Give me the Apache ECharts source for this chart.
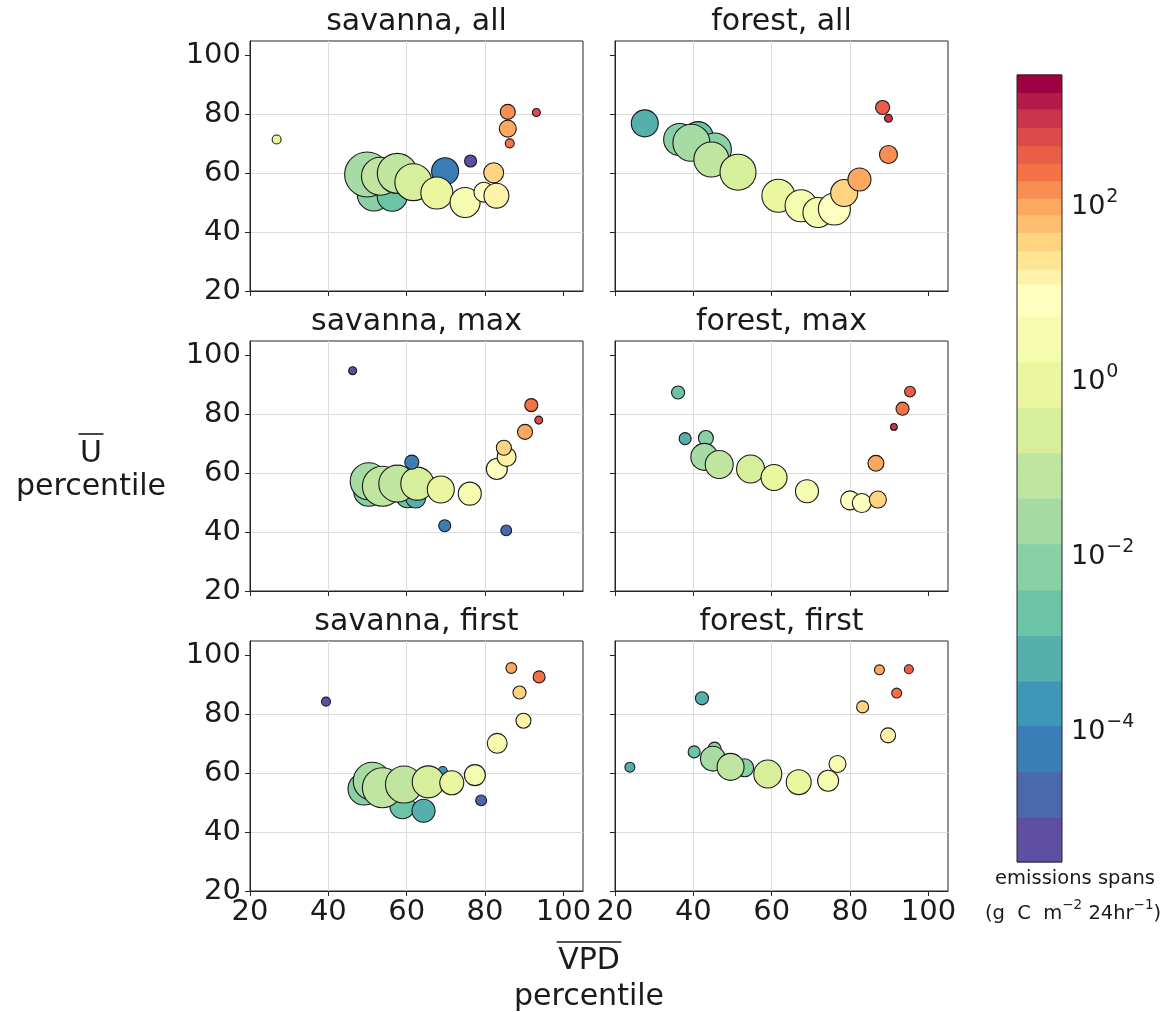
<!DOCTYPE html>
<html><head><meta charset="utf-8">
<script src="https://cdn.jsdelivr.net/npm/echarts@6/dist/echarts.min.js"></script>
<style>html,body{margin:0;padding:0;background:#fff}#c{width:1168px;height:1012px}</style>
</head><body><div id="c"></div>
<script>
// ---------- DATA ----------
const panelTitles = ['savanna, all','forest, all','savanna, max','forest, max','savanna, first','forest, first'];
const xTicks = [20,40,60,80,100];
const yTicks = [20,40,60,80,100];

// savanna, all
const savAllVPD  = [51.6,56.3,49.9,53.3,57.6,69.8,61.7,67.7,74.9,76.3,79.7,82.2,82.9,85.8,85.8,86.3,93.1,26.8];
const savAllU    = [52.8,52.2,59.6,59.0,60.0,60.7,57.0,53.3,50.1,64.2,53.6,60.2,52.4,80.9,75.2,70.2,80.7,71.5];
const savAllLogE = [-2.1,-2.65,-1.6,-1.1,-0.9,-4.0,-0.6,-0.05,0.45,-5.2,0.9,1.57,1.17,2.17,1.97,2.37,2.78,-0.05];
const savAllN    = [121,100,225,160,178,81,152,114,100,16,44,44,69,25,32,9,7,9];
// forest, all
const forAllVPD  = [27.6,41.2,36.5,45.5,39.5,44.6,51.4,61.7,67.5,71.8,76.0,78.5,82.4,89.8,88.3,89.8];
const forAllU    = [77.0,72.5,71.5,68.1,70.4,64.7,60.4,52.4,49.0,46.7,47.9,53.3,57.9,66.4,82.4,78.7];
const forAllLogE = [-3.2,-2.65,-2.1,-2.1,-1.6,-1.1,-0.6,-0.05,0.3,0.45,0.9,1.5,1.9,2.17,2.5,2.98];
const forAllN    = [81,100,114,121,152,136,144,121,114,100,114,81,59,36,22,7];
// savanna, max
const savMaxVPD  = [50.3,60.2,62.3,50.3,53.8,57.6,62.7,61.3,68.7,76.1,69.7,85.4,83.0,85.5,84.8,90.2,91.8,93.7,46.2];
const savMaxU    = [53.9,52.2,51.6,57.3,55.6,56.5,56.5,63.8,54.5,53.1,42.2,40.6,61.5,65.6,68.7,74.1,83.2,78.1,94.9];
const savMaxLogE = [-2.1,-2.65,-3.2,-1.6,-1.1,-1.0,-0.6,-4.0,0.0,0.5,-4.2,-4.5,0.9,1.15,1.55,1.9,2.27,2.8,-5.2];
const savMaxN    = [100,59,44,152,178,152,121,22,81,59,16,13,49,40,25,25,19,7,7];
// forest, max
const forMaxVPD  = [36.1,37.9,43.2,41.6,42.8,46.6,54.6,60.6,69.0,80.0,83.0,87.1,86.6,91.2,93.4,95.3];
const forMaxU    = [87.5,71.8,72.0,65.0,65.6,63.0,61.5,58.6,53.9,50.8,49.9,51.1,63.4,75.8,82.0,87.8];
const forMaxLogE = [-2.65,-3.2,-2.1,-2.65,-1.6,-1.1,-0.6,-0.1,0.45,0.9,1.0,1.5,1.9,2.95,2.27,2.55];
const forMaxN    = [19,16,25,25,81,87,87,75,59,40,40,32,28,5,19,13];
// savanna, first
const savFirstVPD  = [69.2,58.9,64.3,49.1,51.2,53.8,59.3,65.5,71.5,77.4,79.0,83.1,89.8,88.8,86.7,93.8,39.4];
const savFirstU    = [60.8,48.8,47.3,54.7,57.3,55.1,56.2,57.1,56.8,59.4,50.8,70.2,77.9,87.5,95.8,92.8,84.4];
const savFirstLogE = [-3.7,-2.65,-3.2,-2.1,-1.6,-1.1,-0.9,-0.5,0.1,0.5,-4.5,0.6,1.17,1.55,1.9,2.3,-5.2];
const savFirstN    = [9,69,59,114,160,178,152,114,64,49,13,44,25,19,13,16,9];
// forest, first
const forFirstVPD  = [23.8,42.2,40.2,45.4,53.1,45.0,49.5,59.0,66.9,74.4,76.8,89.7,83.2,87.5,91.9,95.0];
const forFirstU    = [62.1,85.5,67.3,68.4,61.9,65.0,62.2,59.8,57.0,57.5,63.2,72.9,82.6,95.2,87.3,95.4];
const forFirstLogE = [-3.2,-3.2,-2.65,-2.1,-2.3,-1.6,-1.1,-0.6,-0.1,0.3,0.7,1.15,1.55,1.9,2.35,2.55];
const forFirstN    = [11,19,16,19,36,69,81,87,69,49,32,25,16,11,11,9];

// colorbar (log10 of emissions) bin boundaries and colours
const cbBounds = [-5.52,-5.01,-4.49,-3.96,-3.45,-2.93,-2.41,-1.88,-1.36,-0.84,-0.32,0.20,0.72,1.09,1.26,1.47,1.68,1.88,2.07,2.27,2.47,2.67,2.88,3.09,3.28,3.48];
const cbColors = ['#5e4fa2','#4b67ad','#3a7eb8','#3f97b7','#55afad','#6bc4a5','#89d0a5','#a6dba4','#bfe5a0','#d7ef9b','#eaf79f','#f5fbaf','#ffffbf','#fff2a9','#fee594','#fed481','#fdbf6f','#fca95f','#f98e52','#f57246','#ea5e47','#dd4a4c','#cc344d','#b51b48','#9e0142'];
const cbTicks = [-4,-2,0,2];

// ---------- CHART ----------
const panels = [
  [savAllVPD, savAllU, savAllLogE, savAllN],
  [forAllVPD, forAllU, forAllLogE, forAllN],
  [savMaxVPD, savMaxU, savMaxLogE, savMaxN],
  [forMaxVPD, forMaxU, forMaxLogE, forMaxN],
  [savFirstVPD, savFirstU, savFirstLogE, savFirstN],
  [forFirstVPD, forFirstU, forFirstLogE, forFirstN]
];
const FONT = 'DejaVu Sans';
const colLeft = [250, 615], colW = 333, rowTop = [41, 341, 641], rowH = 250;
const grids = [], xAxes = [], yAxes = [], series = [], graphics = [];
const frameColor = '#262626';
const textColor = '#1a1a1a';

panels.forEach((p, i) => {
  const col = i % 2, row = Math.floor(i / 2);
  grids.push({left: colLeft[col], top: rowTop[row], width: colW, height: rowH,
    show: true, borderColor: frameColor, borderWidth: 1, backgroundColor: '#fff'});
  const common = {
    gridIndex: i, type: 'value', min: 20, max: 105, interval: 20,
    axisLine: {show: true, onZero: false, lineStyle: {color: frameColor, width: 1}},
    splitLine: {show: true, showMinLine: false, showMaxLine: false, lineStyle: {color: '#dcdcdc', width: 1}}
  };
  xAxes.push(Object.assign({}, common, {
    position: 'bottom',
    axisTick: {show: true, length: 5, customValues: xTicks, lineStyle: {color: frameColor}},
    axisLabel: {show: row === 2, customValues: xTicks, fontSize: 29, color: textColor, fontFamily: FONT, margin: 7}
  }));
  yAxes.push(Object.assign({}, common, {
    position: 'left',
    axisTick: {show: true, length: 5, customValues: yTicks, lineStyle: {color: frameColor}},
    axisLabel: {show: col === 0, customValues: yTicks, fontSize: 29, color: textColor, fontFamily: FONT, margin: 9}
  }));
  series.push({
    type: 'scatter', xAxisIndex: i, yAxisIndex: i,
    data: p[0].map((x, j) => [x, p[1][j], p[2][j], p[3][j]]),
    symbolSize: v => 3 * Math.sqrt(v[3]),
    itemStyle: {borderColor: '#1a1a1a', borderWidth: 1.1, opacity: 1},
    emphasis: {disabled: true}, silent: true
  });
  graphics.push({type: 'text', x: colLeft[col] + colW / 2, y: rowTop[row] - 19,
    style: {text: panelTitles[i], fontSize: 30, fontFamily: FONT, fill: textColor,
      textAlign: 'center', textVerticalAlign: 'middle', align: 'center', verticalAlign: 'middle'}});
});

// colorbar grid
grids.push({left: 1017, top: 75, width: 45, height: 787, show: false});
xAxes.push({gridIndex: 6, type: 'value', min: 0, max: 1, show: false});
yAxes.push({gridIndex: 6, type: 'value', min: cbBounds[0], max: cbBounds[cbBounds.length - 1], position: 'right',
  axisLine: {show: false}, splitLine: {show: false},
  axisTick: {show: true, length: 5, customValues: cbTicks, lineStyle: {color: frameColor}},
  axisLabel: {customValues: cbTicks, margin: 9,
    formatter: v => '{b|10}{s|' + (v < 0 ? '\u2212' + (-v) : String(v)) + '}',
    rich: {b: {fontSize: 27, color: textColor, fontFamily: FONT, padding: [6, 0, 0, 0]},
           s: {fontSize: 19, color: textColor, fontFamily: FONT, verticalAlign: 'top', padding: [0, 0, 0, 1]}}}
});
series.push({
  type: 'custom', xAxisIndex: 6, yAxisIndex: 6, silent: true,
  data: cbColors.map((c, k) => [cbBounds[k], cbBounds[k + 1], k]),
  encode: {y: [0, 1]},
  renderItem: (params, api) => {
    const lo = api.value(0), hi = api.value(1);
    const a = api.coord([0, hi]), b = api.coord([1, lo]);
    return {type: 'rect', shape: {x: a[0], y: a[1] - 0.5, width: b[0] - a[0], height: b[1] - a[1] + 1},
      style: {fill: cbColors[api.value(2)]}};
  }
});
series.push({
  type: 'custom', xAxisIndex: 6, yAxisIndex: 6, silent: true, z: 5,
  data: [[cbBounds[0], cbBounds[cbBounds.length - 1]]],
  encode: {y: [0, 1]},
  renderItem: (params, api) => {
    const a = api.coord([0, api.value(1)]), b = api.coord([1, api.value(0)]);
    return {type: 'rect', shape: {x: a[0], y: a[1], width: b[0] - a[0], height: b[1] - a[1]},
      style: {fill: 'none', stroke: frameColor, lineWidth: 1}};
  }
});

// axis titles (with overline bars) and colorbar label
const mctx = document.createElement('canvas').getContext('2d');
mctx.font = '30px "DejaVu Sans"';
const ta = {textAlign: 'center', textVerticalAlign: 'middle', align: 'center', verticalAlign: 'middle'};
function overlined(txt, cx, cy, barY) {
  graphics.push({type: 'text', x: cx, y: cy, style: Object.assign({text: txt, fontSize: 30, fontFamily: FONT, fill: textColor}, ta)});
  const w = mctx.measureText(txt).width + 3;
  graphics.push({type: 'line', shape: {x1: cx - w / 2, y1: barY, x2: cx + w / 2, y2: barY},
    style: {stroke: textColor, lineWidth: 1.6}});
}
overlined('U', 91, 454, 434);
graphics.push({type: 'text', x: 91, y: 487, style: Object.assign({text: 'percentile', fontSize: 30, fontFamily: FONT, fill: textColor}, ta)});
overlined('VPD', 589, 961, 942);
graphics.push({type: 'text', x: 589, y: 997, style: Object.assign({text: 'percentile', fontSize: 30, fontFamily: FONT, fill: textColor}, ta)});
graphics.push({type: 'text', x: 1075, y: 879, style: Object.assign({text: 'emissions spans', fontSize: 19.5, fontFamily: FONT, fill: textColor}, ta)});
graphics.push({type: 'text', x: 1073, y: 911, style: Object.assign({
  text: '{n|(g  C  m}{s|\u22122}{n| 24hr}{s|\u22121}{n|)}',
  rich: {n: {fontSize: 19.5, fontFamily: FONT, fill: textColor, color: textColor, padding: [5, 0, 0, 0]},
         s: {fontSize: 13.5, fontFamily: FONT, fill: textColor, color: textColor, verticalAlign: 'top'}}
}, ta)});

const chart = echarts.init(document.getElementById('c'), null, {renderer: 'canvas'});
chart.setOption({
  animation: false,
  backgroundColor: '#fff',
  grid: grids, xAxis: xAxes, yAxis: yAxes,
  visualMap: {type: 'piecewise', show: false, dimension: 2, seriesIndex: [0, 1, 2, 3, 4, 5],
    pieces: cbColors.map((c, k) => ({gte: cbBounds[k], lt: cbBounds[k + 1], color: c}))},
  series: series,
  graphic: {elements: graphics}
});
</script></body></html>
